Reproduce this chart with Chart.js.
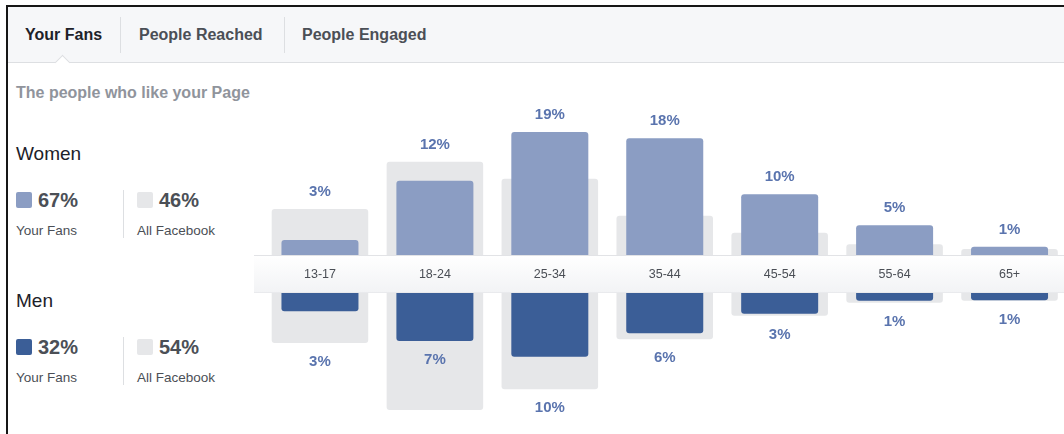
<!DOCTYPE html>
<html><head><meta charset="utf-8">
<script src="https://cdn.jsdelivr.net/npm/chart.js@4.4.1/dist/chart.umd.min.js"></script>
<style>
html,body{margin:0;padding:0;background:#fff;}
body{width:1064px;height:434px;overflow:hidden;position:relative;font-family:"Liberation Sans",Arial,Helvetica,sans-serif;}
.abs{position:absolute;white-space:nowrap;}
#frameTop{left:6px;top:5px;width:1058px;height:2px;background:#161616;}
#frameLeft{left:6px;top:5px;width:2px;height:429px;background:#161616;}
#tabs{left:8px;top:7px;width:1056px;height:55px;background:#f6f7f9;border-bottom:1px solid #dddfe2;}
.tab{top:25px;line-height:20px;font-size:16px;font-weight:bold;color:#4b4f56;}
.sep{width:1px;background:#dddfe2;}
#caret{left:57px;top:57px;width:10px;height:10px;background:#fff;border-left:1px solid #dddfe2;border-top:1px solid #dddfe2;transform:rotate(45deg);}
.sub{font-size:16px;font-weight:bold;color:#90949c;line-height:20px;}
.gender{font-size:19px;color:#1d2129;line-height:24px;}
.sq{width:16px;height:16px;border-radius:2px;}
.pct{font-size:20px;font-weight:bold;color:#4b4f56;line-height:24px;}
.cap{font-size:13.5px;color:#4b4f56;line-height:18px;}
canvas{position:absolute;}
</style></head>
<body>
<div class="abs" id="tabs"></div>
<div class="abs" id="frameTop"></div>
<div class="abs" id="frameLeft"></div>
<div class="abs tab" style="left:25px;color:#1d2129">Your Fans</div>
<div class="abs sep" style="left:120px;top:17px;height:36px"></div>
<div class="abs tab" style="left:139px">People Reached</div>
<div class="abs sep" style="left:284px;top:17px;height:36px"></div>
<div class="abs tab" style="left:302px">People Engaged</div>
<div class="abs" id="caret"></div>
<div class="abs sub" style="left:16px;top:83px">The people who like your Page</div>
<div id="summary"></div>
<canvas id="womenChart" width="816" height="189" style="left:252px;top:70px"></canvas>
<canvas id="menChart" width="816" height="168" style="left:252px;top:255px"></canvas>
<script>
const ageGroups = ['13-17','18-24','25-34','35-44','45-54','55-64','65+'];
const womenFans = [2.8, 11.6, 18.8, 17.9, 9.6, 5.0, 1.8];
const womenAllFacebook = [7.4, 14.4, 11.9, 6.4, 3.9, 2.2, 1.5];
const menFans = [2.8, 7.4, 9.8, 6.2, 3.2, 1.2, 1.1];
const menAllFacebook = [7.7, 18.0, 14.8, 7.1, 3.5, 1.5, 1.2];
const womenFansLabels = [3, 12, 19, 18, 10, 5, 1];
const menFansLabels = [3, 7, 10, 6, 3, 1, 1];
const genderNames = ['Women', 'Men'];
const genderFansTotal = [67, 32];
const genderAllFacebookTotal = [46, 54];

const FONT = '"Liberation Sans", Arial, Helvetica, sans-serif';
const WOMEN_COLOR = '#8b9dc3';
const MEN_COLOR = '#3b5e97';
const GRAY = '#e6e7e9';

// Left summary panel
(function(){
  const host = document.getElementById('summary');
  const tops = [154, 301];
  const colors = [WOMEN_COLOR, MEN_COLOR];
  genderNames.forEach((g, i) => {
    const c = tops[i];
    const sqTop = c + 38;
    host.insertAdjacentHTML('beforeend',
      `<div class="abs gender" style="left:16px;top:${c-12}px">${g}</div>` +
      `<div class="abs sq" style="left:16px;top:${sqTop}px;background:${colors[i]}"></div>` +
      `<div class="abs pct" style="left:38px;top:${sqTop-4}px">${genderFansTotal[i]}%</div>` +
      `<div class="abs cap" style="left:16px;top:${sqTop+30}px">Your Fans</div>` +
      `<div class="abs sep" style="left:123px;top:${sqTop-2}px;height:48px"></div>` +
      `<div class="abs sq" style="left:137px;top:${sqTop}px;background:${GRAY}"></div>` +
      `<div class="abs pct" style="left:159px;top:${sqTop-4}px">${genderAllFacebookTotal[i]}%</div>` +
      `<div class="abs cap" style="left:137px;top:${sqTop+30}px">All Facebook</div>`);
  });
})();

const bandPlugin = {
  id: 'band',
  beforeDraw(chart) {
    const x = chart.scales.x;
    if (!x || !x.options.display) return;
    const ctx = chart.ctx, top = x.top, bottom = x.bottom;
    const g = ctx.createLinearGradient(0, top, 0, bottom);
    g.addColorStop(0, '#ffffff');
    g.addColorStop(1, '#f2f3f5');
    ctx.save();
    ctx.fillStyle = g;
    ctx.fillRect(2, top, chart.width - 2, bottom - top);
    ctx.fillStyle = '#e2e3e6';
    ctx.fillRect(2, top, chart.width - 2, 1);
    ctx.fillStyle = '#e9eaed';
    ctx.fillRect(2, bottom - 1, chart.width - 2, 1);
    ctx.restore();
  }
};

function valueLabels(pcts, isTop) {
  return {
    id: 'valueLabels',
    afterDatasetsDraw(chart) {
      const ctx = chart.ctx, area = chart.chartArea;
      const fm = chart.getDatasetMeta(0), am = chart.getDatasetMeta(1);
      ctx.save();
      ctx.font = 'bold 15px ' + FONT;
      ctx.fillStyle = '#5a74ae';
      ctx.textAlign = 'center';
      ctx.textBaseline = 'middle';
      pcts.forEach((p, i) => {
        const f = fm.data[i], a = am.data[i];
        let y;
        if (isTop) {
          y = Math.min(f.y, a.y) - 17;
          if (y - 8 < area.top) y = f.y - 17;
        } else {
          y = Math.max(f.y, a.y) + 19;
          if (y + 8 > area.bottom) y = f.y + 19;
        }
        ctx.fillText(p + '%', f.x, y);
      });
      ctx.restore();
    }
  };
}

function makeChart(id, fans, all, pcts, isTop) {
  const xScale = isTop
    ? { display: false }
    : {
        display: true,
        position: 'top',
        grid: { display: false, drawTicks: false },
        border: { display: false },
        ticks: { color: '#4b4f56', font: { size: 12.5, family: FONT }, padding: 11, maxRotation: 0 },
        afterFit(s) { s.height = 38; }
      };
  return new Chart(document.getElementById(id), {
    type: 'bar',
    data: {
      labels: ageGroups,
      datasets: [
        { label: 'Your Fans', data: fans, backgroundColor: isTop ? WOMEN_COLOR : MEN_COLOR,
          barPercentage: 0.67, categoryPercentage: 1, grouped: false, order: 0,
          borderRadius: 3, borderSkipped: 'start' },
        { label: 'All Facebook', data: all, backgroundColor: GRAY,
          barPercentage: 0.84, categoryPercentage: 1, grouped: false, order: 1,
          borderRadius: 3, borderSkipped: 'start' }
      ]
    },
    options: {
      responsive: false,
      animation: false,
      layout: { padding: { left: 10.5, right: 1, top: 0, bottom: 0 } },
      plugins: { legend: { display: false }, tooltip: { enabled: false } },
      scales: {
        x: xScale,
        y: { display: false, min: 0, max: isTop ? 28 : 20, reverse: !isTop }
      }
    },
    plugins: [bandPlugin, valueLabels(pcts, isTop)]
  });
}

makeChart('womenChart', womenFans, womenAllFacebook, womenFansLabels, true);
makeChart('menChart', menFans, menAllFacebook, menFansLabels, false);
</script>
</body></html>
